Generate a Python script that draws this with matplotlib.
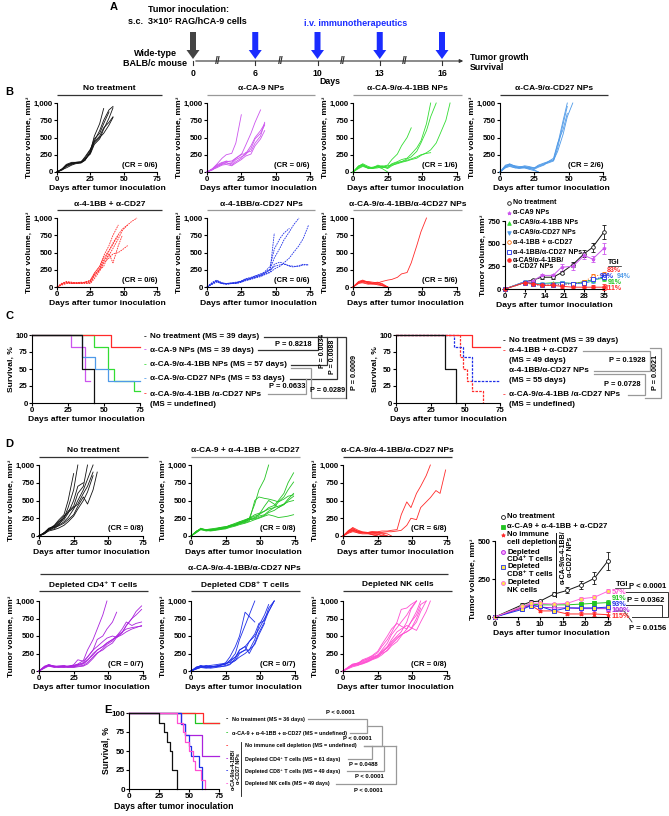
import matplotlib
matplotlib.use("Agg")
import matplotlib.pyplot as plt
from matplotlib.patches import FancyArrow

plt.rcParams["font.family"] = ["Liberation Sans", "DejaVu Sans"]
plt.rcParams["font.weight"] = "bold"
plt.rcParams["axes.labelweight"] = "bold"
plt.rcParams["axes.linewidth"] = 0.8

W, H = 669, 816

# ---------------- data ----------------
TIMELINE_DAYS = [0, 6, 10, 13, 16]

DAYS = [0, 4, 7, 11, 14, 18, 21, 25, 28, 32, 35, 39, 42, 46, 49, 53, 56, 60, 63, 67, 70, 74]
DAY_TICKS = [0, 25, 50, 75]
VOL_TICKS = [0, 250, 500, 750, 1000]
VOL_TICK_LABELS = ["0", "250", "500", "750", "1,000"]

B_NO_TREATMENT = [
    [0, 40, 90, 120, 130, 135, 170, 300, 520, 700, 920],
    [0, 45, 100, 130, 135, 140, 180, 280, 450, 600, 750, 900, 950],
    [0, 30, 80, 110, 130, 140, 200, 320, 480, 560, 700, 870],
    [0, 50, 110, 140, 140, 150, 190, 260, 400, 480, 620, 780, 930],
    [0, 35, 60, 100, 120, 130, 170, 280, 420, 500, 560, 680, 790],
    [0, 40, 95, 125, 140, 145, 220, 330, 440, 520, 640, 720, 800],
]
B_CA9 = [
    [0, 50, 110, 200, 250, 270, 420, 830],
    [0, 45, 100, 140, 150, 160, 200, 250, 380, 560, 720, 900],
    [0, 40, 90, 130, 160, 140, 200, 260, 260, 380, 500, 600, 700],
    [0, 35, 80, 110, 130, 120, 180, 220, 250, 340, 480, 560, 680],
    [0, 30, 70, 120, 140, 100, 150, 200, 280, 300, 420, 520, 720],
    [0, 40, 60, 100, 110, 90, 130, 180, 230, 260, 380, 480, 600],
]
B_CA9_41BB = [
    [0, 80, 120, 80, 60, 70, 50, 0],
    [0, 90, 110, 60, 50, 90, 80, 100, 180, 260, 380, 500, 640],
    [0, 70, 100, 70, 60, 80, 90, 70, 120, 150, 180, 200, 260, 350, 450, 700, 1000],
    [0, 60, 90, 50, 60, 100, 70, 60, 110, 140, 150, 190, 220, 300, 420, 600, 800, 1000],
    [0, 80, 100, 60, 70, 80, 60, 90, 100, 120, 140, 160, 180, 200, 240, 280, 320, 420, 560, 750, 1000],
    [0, 50, 80, 60, 50, 60, 80, 50, 90, 130, 150, 170, 190, 220, 250, 270, 280],
]
B_CA9_CD27 = [
    [0, 100, 110, 80, 60, 70, 60, 30, 0],
    [0, 70, 90, 60, 50, 60, 40, 20, 0],
    [0, 90, 120, 80, 70, 90, 80, 60, 100, 130, 150, 180, 400, 750, 1000],
    [0, 80, 100, 70, 60, 80, 70, 50, 90, 120, 140, 170, 300, 550, 800, 1000],
    [0, 70, 110, 90, 80, 70, 60, 60, 80, 110, 130, 160, 350, 700, 950],
    [0, 60, 80, 60, 70, 60, 50, 40, 70, 100, 150, 200, 420, 620, 850],
]
B_41BB_CD27 = [
    [0, 40, 60, 60, 50, 55, 50, 60, 150, 250, 380, 520, 640, 760, 840, 900, 950, 1000],
    [0, 50, 80, 70, 60, 60, 70, 80, 200, 300, 450, 600, 750, 900],
    [0, 30, 50, 50, 60, 50, 60, 50, 120, 230, 350, 420, 480, 500, 540, 600],
    [0, 60, 70, 60, 50, 60, 70, 90, 180, 250, 300, 480, 350, 600, 750],
    [0, 40, 70, 50, 60, 70, 60, 70, 170, 270, 380, 460, 560, 700, 820, 900],
    [0, 50, 60, 60, 60, 60, 70, 100, 200, 300, 420, 530, 620, 750],
]
B_41BB_CD27_NPS = [
    [0, 60, 90, 50, 50, 50, 60, 80, 110, 130, 150, 170, 200, 250, 780],
    [0, 70, 100, 60, 50, 60, 60, 90, 120, 140, 160, 190, 210, 260, 420, 560, 680, 800, 900, 1000],
    [0, 50, 80, 50, 40, 50, 50, 70, 100, 120, 140, 160, 180, 210, 260, 300, 350, 420, 500, 600, 700, 900],
    [0, 40, 70, 50, 40, 50, 60, 80, 100, 120, 140, 170, 200, 250, 300, 320, 330, 310, 300, 300, 320, 320],
    [0, 50, 90, 60, 50, 50, 50, 70, 90, 110, 130, 150, 180, 220, 330, 360, 340, 300, 290, 310, 330, 320],
    [0, 60, 80, 50, 50, 60, 70, 80, 110, 130, 160, 180, 220, 300, 550, 700, 780, 850],
]
B_TRIPLE = [
    [0, 80, 100, 70, 60, 70, 40, 0],
    [0, 60, 90, 60, 50, 40, 30, 0],
    [0, 70, 80, 80, 70, 60, 50, 0],
    [0, 50, 70, 50, 40, 50, 20, 0],
    [0, 60, 60, 40, 50, 30, 20, 0],
    [0, 70, 90, 60, 50, 60, 80, 100, 110, 140, 190, 210, 350, 600, 800, 1000],
]

SUM_B_DAYS = [0, 7, 10, 13, 17, 20, 24, 28, 31, 35]
SUM_B_NT = [0, 80, 100, 130, 130, 180, 270, 390, 460, 630]
SUM_B_NT_ERR = [0, 10, 10, 15, 15, 20, 30, 40, 50, 80]
SUM_B_CA9 = [0, 80, 90, 150, 150, 240, 250, 370, 330, 450]
SUM_B_CA9_ERR = [0, 10, 10, 20, 20, 40, 40, 40, 30, 60]
SUM_B_CA9_41BB = [0, 75, 60, 60, 70, 70, 60, 80, 100, 120]
SUM_B_CA9_CD27 = [0, 80, 60, 55, 60, 70, 60, 60, 90, 140]
SUM_B_41BB_CD27 = [0, 70, 50, 40, 50, 50, 60, 80, 140, 160]
SUM_B_41BB_CD27_NPS = [0, 70, 50, 40, 40, 50, 60, 70, 110, 130]
SUM_B_TRIPLE = [0, 70, 60, 40, 40, 30, 20, 20, 20, 20]
SUM_B_SMALL_ERR = [0, 10, 10, 10, 10, 15, 15, 20, 25, 30]
SUM_B_LABELS = ["No treatment", "α-CA9 NPs", "α-CA9/α-4-1BB NPs", "α-CA9/α-CD27 NPs",
                "α-4-1BB + α-CD27", "α-4-1BB/α-CD27 NPs", "α-CA9/α-4-1BB/\nα-CD27 NPs"]
SUM_B_TGI = ["83%", "90%", "94%", "91%", "111%"]

# survival (time, % surviving), panel C
KM_C_NT = ([0, 35, 43], [100, 50, 0], 43)
KM_C_CA9 = ([0, 27, 37], [100, 83, 33], 40)
KM_C_CA9_41BB = ([0, 43, 53, 57, 71], [100, 83, 50, 33, 17], 75)
KM_C_CA9_CD27 = ([0, 35, 44, 53], [100, 67, 50, 33], 75)
KM_C_TRIPLE = ([0, 55], [100, 83], 75)
KM_C_41BB_CD27 = ([0, 46, 48, 51, 55, 63], [100, 67, 50, 33, 17, 0], 63)
KM_C_41BB_CD27_NPS = ([0, 42, 48, 55], [100, 83, 67, 33], 75)

D_NO_TREATMENT = [
    [0, 50, 100, 150, 220, 300, 500, 880],
    [0, 40, 90, 140, 200, 250, 400, 650, 1000],
    [0, 50, 110, 130, 170, 230, 320, 500, 700, 750],
    [0, 30, 80, 120, 160, 260, 350, 420, 600, 700, 1000],
    [0, 40, 90, 100, 150, 200, 260, 380, 500, 650, 800, 1000],
    [0, 50, 100, 140, 190, 280, 330, 400, 450, 600, 700, 900],
    [0, 45, 100, 120, 140, 180, 230, 300, 420, 550, 450, 650, 900],
    [0, 35, 70, 90, 110, 150, 200, 280, 380, 500, 620, 850],
]
D_FREE_COMBO = [
    [0, 60, 100, 80, 80, 90, 100, 120, 150, 170, 200, 220, 250, 450, 650, 800, 1000],
    [0, 70, 100, 90, 90, 100, 110, 130, 150, 180, 200, 230, 250, 280, 300, 350, 400, 430, 500, 600, 750, 890],
    [0, 50, 90, 70, 80, 90, 100, 110, 140, 160, 180, 200, 230, 250, 280, 300, 350, 400, 480, 550, 650, 760],
    [0, 60, 110, 80, 90, 100, 120, 130, 140, 150, 180, 210, 240, 260, 300, 420, 500, 450, 400, 450, 520, 600],
    [0, 70, 100, 90, 80, 90, 100, 110, 130, 150, 170, 190, 210, 500, 550, 530, 520, 500, 480, 520, 560, 580],
    [0, 60, 90, 80, 70, 80, 90, 100, 120, 140, 160, 180, 200, 230, 250, 280, 300, 280, 260, 270, 280, 300],
    [0, 50, 100, 90, 100, 110, 120, 130, 140, 160, 180, 220, 250, 300, 320, 350, 380, 400, 420, 450, 480, 500],
    [0, 65, 95, 85, 85, 95, 100, 115, 135, 160, 190, 200, 230, 240, 260, 290, 330, 360, 400, 440, 500, 560],
]
D_TRIPLE = [
    [0, 80, 110, 60, 50, 40, 20, 0],
    [0, 60, 90, 70, 50, 50, 40, 30, 0],
    [0, 70, 120, 80, 60, 50, 50, 40, 30, 0],
    [0, 50, 70, 40, 30, 30, 20, 0],
    [0, 40, 60, 50, 40, 40, 30, 20, 10, 0],
    [0, 60, 80, 60, 50, 50, 60, 50, 40, 30, 0],
    [0, 70, 100, 60, 50, 50, 60, 60, 70, 70, 80, 90, 300, 480, 400, 600, 700, 850, 1000],
    [0, 60, 80, 60, 50, 40, 50, 50, 50, 60, 60, 70, 80, 150, 250, 230, 400, 480, 540, 640, 600, 930],
]
D_CD4 = [
    [0, 60, 90, 70, 60, 60, 70, 80, 100, 150, 300, 450, 600, 800, 1000],
    [0, 50, 80, 60, 60, 70, 60, 90, 160, 140, 200, 300, 450, 500, 600, 700, 840],
    [0, 70, 90, 60, 50, 60, 60, 60, 80, 100, 150, 250, 300, 350, 400, 450, 480, 550, 650, 750, 850, 930],
    [0, 60, 80, 70, 70, 70, 70, 80, 90, 110, 160, 230, 300, 350, 400, 450, 500, 560, 600, 620, 630, 640],
    [0, 40, 70, 50, 60, 50, 60, 60, 70, 80, 120, 200, 260, 300, 350, 400, 480, 550, 650, 750, 800, 880],
    [0, 50, 90, 70, 60, 60, 50, 50, 60, 70, 100, 180, 250, 320, 380, 430, 500, 600, 700, 650, 680, 700],
    [0, 60, 70, 60, 70, 80, 60, 70, 90, 120, 200, 300, 350, 420, 470, 500, 480, 520, 560, 600, 620, 650],
]
D_CD8 = [
    [0, 40, 60, 80, 60, 70, 80, 100, 150, 250, 450, 650, 800, 1000],
    [0, 50, 80, 60, 70, 60, 80, 120, 200, 350, 500, 840, 780, 700],
    [0, 60, 70, 50, 60, 70, 90, 100, 130, 200, 260, 300, 420, 500, 600, 750, 850, 1000],
    [0, 30, 50, 40, 50, 60, 80, 100, 150, 200, 300, 350, 420, 530, 680, 720, 900, 1000],
    [0, 40, 60, 70, 80, 90, 100, 110, 120, 150, 200, 250, 300, 450, 650, 800, 950],
    [0, 50, 70, 60, 60, 70, 60, 70, 90, 180, 300, 350, 250, 400, 550, 700, 850, 1000],
    [0, 30, 50, 50, 40, 50, 60, 80, 100, 150, 250, 300, 300, 380, 520, 680],
]
D_NK = [
    [0, 50, 90, 120, 140, 180, 210, 260, 350, 450, 550, 700, 880, 900, 950, 1000],
    [0, 60, 100, 110, 160, 190, 220, 280, 380, 500, 600, 680, 640, 600, 700, 800, 950, 1000],
    [0, 40, 80, 100, 120, 150, 180, 220, 300, 400, 520, 620, 700, 800, 900, 1000],
    [0, 50, 80, 90, 110, 140, 170, 200, 260, 340, 420, 500, 560, 700, 880, 1000],
    [0, 45, 70, 90, 100, 130, 160, 190, 230, 300, 380, 460, 520, 560, 600, 700, 850, 1000],
    [0, 55, 90, 110, 130, 160, 200, 230, 270, 330, 400, 480, 520, 560, 600, 750, 900],
    [0, 35, 60, 80, 110, 140, 170, 210, 250, 290, 360, 420, 500, 600, 700, 850, 1000],
    [0, 50, 95, 100, 150, 170, 190, 220, 280, 350, 450, 560, 600, 650, 620, 580, 700, 850, 1000],
]

SUM_D_DAYS = [0, 6, 8, 10, 13, 16, 19, 22, 25]
SUM_D_NT = [0, 80, 100, 105, 150, 175, 210, 255, 370]
SUM_D_NT_ERR = [0, 10, 10, 10, 15, 20, 25, 40, 60]
SUM_D_FREE = [0, 70, 85, 80, 80, 80, 85, 90, 95]
SUM_D_NO_DEPL = [0, 60, 75, 40, 40, 20, 20, 20, 15]
SUM_D_CD4 = [0, 60, 80, 65, 60, 60, 55, 55, 55]
SUM_D_CD8 = [0, 50, 75, 70, 40, 60, 60, 60, 65]
SUM_D_NK = [0, 70, 90, 90, 85, 90, 120, 130, 170]
SUM_D_SMALL_ERR = [0, 8, 8, 8, 8, 10, 10, 12, 15]
SUM_D_TGI = ["57%", "91%", "93%", "100%", "115%"]

KM_E_NT = ([0, 25, 29, 32, 34, 36, 40], [100, 87.5, 75, 62.5, 50, 25, 0], 40)
KM_E_FREE = ([0, 55], [100, 87.5], 75)
KM_E_NO_DEPL = ([0, 62], [100, 87.5], 75)
KM_E_CD4 = ([0, 43, 47, 61], [100, 86, 71, 43], 75)
KM_E_CD8 = ([0, 43, 47, 50, 52, 58, 61], [100, 86, 71, 57, 43, 29, 0], 61)
KM_E_NK = ([0, 40, 45, 47, 50, 53, 55, 60, 63], [100, 87.5, 75, 62.5, 50, 37.5, 25, 12.5, 0], 63)

# ---------------- colours ----------------
BLACK = "#111111"
VIOLET = "#cc55ee"
GREEN = "#33dd33"
LBLUE = "#4f9ae8"
RED = "#ff2a2a"
BLUE = "#1f2fe8"
ORANGE = "#ff6a00"
DGREEN = "#22c422"
PURPLE = "#aa22dd"
PINK = "#ff4fd2"
GRAYL = "#999999"
GRAYD = "#333333"
DASH = (0, (2, 1))

fig = plt.figure(figsize=(W / 100, H / 100), dpi=100)
ov = fig.add_axes([0, 0, 1, 1], zorder=10)
ov.set_xlim(0, W)
ov.set_ylim(H, 0)
ov.axis("off")


def add_ax(x0, x1, ytop, ybot):
    ax = fig.add_axes([x0 / W, 1 - ybot / H, (x1 - x0) / W, (ybot - ytop) / H])
    ax.patch.set_visible(False)
    ax.spines["top"].set_visible(False)
    ax.spines["right"].set_visible(False)
    ax.tick_params(labelsize=5.6, length=2, width=0.8, pad=1)
    return ax


def txt(x, y, s, size=5.2, color="black", ha="left", va="center", **kw):
    ov.text(x, y, s, fontsize=size, color=color, ha=ha, va=va, **kw)


def poly(points, color=GRAYL, lw=0.9):
    ov.plot([p[0] for p in points], [p[1] for p in points], color=color, lw=lw,
            solid_joinstyle="miter")


def title_bar(x0, x1, y, text, lc):
    txt((x0 + x1) / 2, y, text, size=6.0, ha="center")
    ov.plot([x0, x1], [y + 6, y + 6], color=lc, lw=0.9, solid_capstyle="butt")


def spaghetti(ax, curves, color, ls, cr):
    for c in curves:
        ax.plot(DAYS[:len(c)], c, color=color, lw=0.6, ls=ls, clip_on=False)
    ax.set_xlim(0, 75)
    ax.set_ylim(0, 1000)
    ax.set_xticks(DAY_TICKS)
    ax.set_yticks(VOL_TICKS)
    ax.set_yticklabels(VOL_TICK_LABELS)
    ax.set_xlabel("Days after tumor inoculation", fontsize=6.1, labelpad=1.5)
    ax.set_ylabel("Tumor volume, mm³", fontsize=6.1, labelpad=0.5)
    ax.text(1.0, 0.1, cr, transform=ax.transAxes, ha="right", va="center", fontsize=5.5)


def km(ax, data, color, ls="-"):
    times, surv, end = data
    ax.step(list(times) + [end], list(surv) + [surv[-1]], where="post",
            color=color, lw=0.9, ls=ls, clip_on=False)


def km_axes(ax, size=6.1):
    ax.set_xlim(0, 75)
    ax.set_ylim(0, 100)
    ax.set_xticks(DAY_TICKS)
    ax.set_yticks([0, 25, 50, 75, 100])
    ax.set_xlabel("Days after tumor inoculation", fontsize=size, labelpad=1.5)
    ax.set_ylabel("Survival, %", fontsize=size, labelpad=0.5)


# ---------------- panel A ----------------
txt(110, 7, "A", size=8)
xs = [193 + 62.25 * i for i in range(len(TIMELINE_DAYS))]
ov.annotate("", xy=(466, 61), xytext=(193, 61),
            arrowprops=dict(arrowstyle="-|>", color=GRAYD, lw=0.8, mutation_scale=5))
for i, (x, d) in enumerate(zip(xs, TIMELINE_DAYS)):
    ov.plot([x, x], [61, 65], color=GRAYD, lw=0.8)
    txt(x, 73, str(d), size=6.3, ha="center")
    col = "#444444" if i == 0 else "#1a2cff"
    ov.add_patch(FancyArrow(x, 32, 0, 27, width=6, head_width=13, head_length=9,
                            length_includes_head=True, color=col, lw=0))
for a, b in zip(xs[:-1], xs[1:]):
    txt((a + b) / 2 - 6, 61, "//", size=7.5, color=GRAYD, ha="center")
txt(330, 82, "Days", size=6.3, ha="center")
txt(189, 10, "Tumor inoculation:", size=6.5, ha="center")
txt(187, 21, "s.c.  3×10⁵ RAG/hCA-9 cells", size=6.5, ha="center")
txt(356, 23, "i.v. immunotherapeutics", size=6.5, color="#1a2cff", ha="center")
txt(155, 53, "Wide-type", size=6.5, ha="center")
txt(155, 64, "BALB/c mouse", size=6.5, ha="center")
txt(470, 57, "Tumor growth", size=6.3)
txt(470, 68, "Survival", size=6.3)

# ---------------- panel B ----------------
txt(5, 92, "B", size=8)
B_COLS = [(57, 157), (207, 310), (353, 457), (500, 603)]
row1 = [("No treatment", B_NO_TREATMENT, BLACK, "-", "(CR = 0/6)", GRAYD),
        ("α-CA-9 NPs", B_CA9, VIOLET, "-", "(CR = 0/6)", GRAYL),
        ("α-CA-9/α-4-1BB NPs", B_CA9_41BB, GREEN, "-", "(CR = 1/6)", GRAYL),
        ("α-CA-9/α-CD27 NPs", B_CA9_CD27, LBLUE, "-", "(CR = 2/6)", GRAYD)]
row2 = [("α-4-1BB + α-CD27", B_41BB_CD27, RED, DASH, "(CR = 0/6)", GRAYD),
        ("α-4-1BB/α-CD27 NPs", B_41BB_CD27_NPS, BLUE, DASH, "(CR = 0/6)", GRAYL),
        ("α-CA-9/α-4-1BB/α-4CD27 NPs", B_TRIPLE, RED, "-", "(CR = 5/6)", GRAYL)]
for (x0, x1), (title, curves, col, ls, cr, lc) in zip(B_COLS, row1):
    ax = add_ax(x0, x1, 103, 172)
    spaghetti(ax, curves, col, ls, cr)
    title_bar(x0, x1 + 5, 89, title, lc)
for (x0, x1), (title, curves, col, ls, cr, lc) in zip(B_COLS, row2):
    ax = add_ax(x0, x1, 218, 287)
    spaghetti(ax, curves, col, ls, cr)
    title_bar(x0, x1 + 5, 204, title, lc)

ax = add_ax(505, 604, 221, 289)
sum_b = [(SUM_B_NT, SUM_B_NT_ERR, BLACK, "o", "white", "-"),
         (SUM_B_CA9, SUM_B_CA9_ERR, VIOLET, "*", VIOLET, "-"),
         (SUM_B_CA9_41BB, SUM_B_SMALL_ERR, GREEN, "^", GREEN, "-"),
         (SUM_B_CA9_CD27, SUM_B_SMALL_ERR, LBLUE, "v", LBLUE, "-"),
         (SUM_B_41BB_CD27, SUM_B_SMALL_ERR, ORANGE, "o", "white", ":"),
         (SUM_B_41BB_CD27_NPS, SUM_B_SMALL_ERR, BLUE, "s", "white", ":"),
         (SUM_B_TRIPLE, SUM_B_SMALL_ERR, RED, "o", RED, "-")]
for vals, errs, col, mk, mfc, ls in sum_b:
    ax.errorbar(SUM_B_DAYS, vals, yerr=errs, color=col, marker=mk, ms=2.6, mfc=mfc,
                mew=0.6, lw=0.7, ls=ls, capsize=1.2, elinewidth=0.6, clip_on=False)
ax.set_xlim(0, 35)
ax.set_ylim(0, 750)
ax.set_xticks([0, 7, 14, 21, 28, 35])
ax.set_yticks([0, 250, 500, 750])
ax.set_xlabel("Days after tumor inoculation", fontsize=6.1, labelpad=1.5)
ax.set_ylabel("Tumor volume, mm³", fontsize=6.1, labelpad=0.5)
leg_y = [203, 213, 223, 233, 242, 252, 260]
for (vals, errs, col, mk, mfc, ls), lab, y in zip(sum_b, SUM_B_LABELS, leg_y):
    ov.plot([509], [y], marker=mk, ms=2.6, color=col, mfc=mfc, mew=0.6)
    lines = lab.split("\n")
    for k, line in enumerate(lines):
        txt(513, y + 7 * k, line, size=5.0)
txt(614, 262, "TGI", size=5.0, ha="center")
ov.plot([608, 621], [265.5, 265.5], color=BLACK, lw=0.5)
tgi_b_pos = [(614, 270, RED), (607, 277, BLUE), (624, 277, LBLUE), (615, 283, DGREEN), (613, 289, RED)]
for lab, (x, y, col) in zip(SUM_B_TGI, tgi_b_pos):
    txt(x, y, lab, size=5.0, color=col, ha="center")

# ---------------- panel C ----------------
txt(5, 316, "C", size=8)
ax = add_ax(32, 140, 335, 403)
km(ax, KM_C_CA9, VIOLET)
km(ax, KM_C_CA9_41BB, GREEN)
km(ax, KM_C_CA9_CD27, LBLUE)
km(ax, KM_C_TRIPLE, RED)
km(ax, KM_C_NT, BLACK)
km_axes(ax)
c_left = [("No treatment (MS = 39 days)", BLACK, 337),
          ("α-CA-9 NPs (MS = 39 days)", VIOLET, 350),
          ("α-CA-9/α-4-1BB NPs (MS = 57 days)", GREEN, 365),
          ("α-CA-9/α-CD27 NPs (MS = 53 days)", LBLUE, 379),
          ("α-CA-9/α-4-1BB /α-CD27 NPs", RED, 394)]
for lab, col, y in c_left:
    txt(144, y, "-", size=6.0, color=col)
    txt(150, y, lab, size=5.9)
txt(150, 405, "(MS = undefined)", size=5.9)
poly([(264, 337), (318, 337), (318, 350), (258, 350)], GRAYD)
txt(293, 344, "P = 0.8218", size=5.4, ha="center")
poly([(318, 337), (327, 337), (327, 365), (291, 365)], GRAYD)
txt(322.5, 351, "P = 0.0034", size=5.0, ha="center", rotation=90)
poly([(327, 337), (337, 337), (337, 379), (290, 379)], GRAYD)
txt(332.5, 357, "P = 0.0088", size=5.0, ha="center", rotation=90)
poly([(268, 394), (306, 394), (306, 379)], GRAYL)
txt(287, 386.5, "P = 0.0633", size=5.4, ha="center")
poly([(291, 368), (311, 368), (311, 398), (346, 398)], GRAYL)
txt(328, 391, "P = 0.0289", size=5.2, ha="center")
poly([(337, 337), (346, 337), (346, 398)], GRAYD)
txt(354, 372, "P = 0.0009", size=5.2, ha="center", rotation=90)

ax = add_ax(396, 500, 335, 403)
km(ax, KM_C_41BB_CD27, RED, DASH)
km(ax, KM_C_41BB_CD27_NPS, BLUE, DASH)
km(ax, KM_C_TRIPLE, RED)
km(ax, KM_C_NT, BLACK)
km_axes(ax)
c_right = [("No treatment (MS = 39 days)", BLACK, 341),
           ("α-4-1BB + α-CD27", RED, 351),
           ("α-4-1BB/α-CD27 NPs", None, 371),
           ("α-CA-9/α-4-1BB /α-CD27 NPs", RED, 395)]
for lab, col, y in c_right:
    if col is not None:
        txt(503, y, "-", size=6.0, color=col)
    txt(509, y, lab, size=5.9)
txt(509, 360, "(MS = 49 days)", size=5.9)
txt(509, 381, "(MS = 55 days)", size=5.9)
txt(509, 405, "(MS = undefined)", size=5.9)
poly([(583, 351), (650, 351), (650, 371), (594, 371)], GRAYL)
txt(627, 361, "P = 0.1928", size=5.4, ha="center")
poly([(594, 374), (645, 374), (645, 395), (628, 395)], GRAYL)
txt(622, 384, "P = 0.0728", size=5.4, ha="center")
poly([(650, 348), (661, 348), (661, 398), (645, 398)], GRAYL)
txt(655.5, 372, "P = 0.0021", size=5.2, ha="center", rotation=90)

# ---------------- panel D ----------------
txt(5, 444, "D", size=8)
D_COLS = [(39, 143), (191, 295), (343, 447)]
d_row1 = [("No treatment", D_NO_TREATMENT, BLACK, "(CR = 0/8)", GRAYD),
          ("α-CA-9 + α-4-1BB + α-CD27", D_FREE_COMBO, DGREEN, "(CR = 0/8)", GRAYL),
          ("α-CA-9/α-4-1BB/α-CD27 NPs", D_TRIPLE, RED, "(CR = 6/8)", GRAYD)]
d_row2 = [("Depleted CD4⁺ T cells", D_CD4, PURPLE, "(CR = 0/7)", GRAYD),
          ("Depleted CD8⁺ T cells", D_CD8, BLUE, "(CR = 0/7)", GRAYD),
          ("Depleted NK cells", D_NK, PINK, "(CR = 0/8)", GRAYD)]
for (x0, x1), (title, curves, col, cr, lc) in zip(D_COLS, d_row1):
    ax = add_ax(x0, x1, 465, 536)
    spaghetti(ax, curves, col, "-", cr)
    title_bar(x0, x1 + 5, 451, title, lc)
title_bar(40, 448, 568, "α-CA-9/α-4-1BB/α-CD27 NPs", GRAYD)
for (x0, x1), (title, curves, col, cr, lc) in zip(D_COLS, d_row2):
    ax = add_ax(x0, x1, 601, 671)
    spaghetti(ax, curves, col, "-", cr)
    title_bar(x0, x1 + 5, 585, title, lc)

ax = add_ax(495, 608, 541, 617)
sum_d = [(SUM_D_NT, SUM_D_NT_ERR, BLACK, "o", "white"),
         (SUM_D_FREE, SUM_D_SMALL_ERR, DGREEN, "s", DGREEN),
         (SUM_D_NO_DEPL, SUM_D_SMALL_ERR, RED, "*", RED),
         (SUM_D_CD4, SUM_D_SMALL_ERR, PURPLE, "o", "#ff9cff"),
         (SUM_D_CD8, SUM_D_SMALL_ERR, BLUE, "s", "#ffe84a"),
         (SUM_D_NK, SUM_D_SMALL_ERR, "#ff66dd", "o", "#ffe84a")]
for vals, errs, col, mk, mfc in sum_d:
    ax.errorbar(SUM_D_DAYS, vals, yerr=errs, color=col, marker=mk, ms=2.8, mfc=mfc,
                mew=0.6, lw=0.7, capsize=1.2, elinewidth=0.6, clip_on=False)
ax.set_xlim(0, 25)
ax.set_ylim(0, 500)
ax.set_xticks([0, 5, 10, 15, 20, 25])
ax.set_yticks([0, 250, 500])
ax.set_xlabel("Days after tumor inoculation", fontsize=6.1, labelpad=1.5)
ax.set_ylabel("Tumor volume, mm³", fontsize=6.1, labelpad=0.5)
d_leg = [("No treatment", 517), ("α-C-A9 + α-4-1BB + α-CD27", 527),
         ("No immune\ncell depletion", 535), ("Depleted\nCD4⁺ T cells", 552),
         ("Depleted\nCD8⁺ T cells", 567), ("Depleted\nNK cells", 583)]
for (vals, errs, col, mk, mfc), (lab, y) in zip(sum_d, d_leg):
    ov.plot([503], [y], marker=mk, ms=2.8, color=col, mfc=mfc, mew=0.6)
    for k, line in enumerate(lab.split("\n")):
        txt(507, y + 7.5 * k, line, size=5.6)
ov.plot([556, 556], [533, 597], color=BLACK, lw=0.7)
txt(567, 557, "α-CA-9/α-4-1BB/\nα-CD27 NPs", size=5.0, ha="center", rotation=90,
    linespacing=1.0)
txt(622, 584, "TGI", size=5.4, ha="center")
ov.plot([615, 630], [588, 588], color=BLACK, lw=0.5)
tgi_d_col = [PINK, DGREEN, BLUE, PURPLE, RED]
for k, (lab, col) in enumerate(zip(SUM_D_TGI, tgi_d_col)):
    txt(612, 592 + 6.2 * k, lab, size=5.3, color=col)
poly([(626, 592), (668, 592), (668, 617), (632, 617)], GRAYD, 0.7)
poly([(626, 605), (662, 605), (662, 617)], GRAYD, 0.7)
txt(648, 587, "P < 0.0001", size=5.6, ha="center")
txt(646, 600, "P = 0.0362", size=5.6, ha="center")
poly([(616, 611), (624, 611), (632, 622)], GRAYD, 0.6)
txt(648, 628, "P = 0.0156", size=5.6, ha="center")

# ---------------- panel E ----------------
txt(104, 710, "E", size=8)
ax = add_ax(129, 219, 713, 789)
km(ax, KM_E_FREE, DGREEN)
km(ax, KM_E_NO_DEPL, RED)
km(ax, KM_E_CD4, PURPLE)
km(ax, KM_E_CD8, BLUE)
km(ax, KM_E_NK, PINK)
km(ax, KM_E_NT, BLACK)
km_axes(ax, 6.3)
ax.tick_params(labelsize=5.9)
e_leg = [("No treatment (MS = 36 days)", BLACK, 719, 232),
         ("α-CA-9 + α-4-1BB + α-CD27 (MS = undefined)", DGREEN, 733, 232),
         ("No immune cell depletion (MS = undefined)", RED, 746, 245),
         ("Depleted CD4⁺ T cells (MS = 61 days)", PURPLE, 759, 245),
         ("Depleted CD8⁺ T cells (MS = 49 days)", BLUE, 771, 245),
         ("Depleted NK cells (MS = 49 days)", PINK, 784, 245)]
for lab, col, y, x in e_leg:
    txt(226, y, "-", size=5.0, color=col)
    txt(x, y, lab, size=3.9)
ov.plot([241, 241], [742, 796], color=BLACK, lw=0.6)
txt(235.5, 769, "α-CA-9/α-4-1BB/\nα-CD27 NPs", size=3.9, ha="center", rotation=90,
    linespacing=1.0)
poly([(308, 719), (367, 719), (367, 733), (350, 733)], GRAYL)
txt(340, 713, "P < 0.0001", size=4.2, ha="center")
poly([(367, 726), (382, 726), (382, 746), (364, 746)], GRAYL)
txt(357, 739, "P < 0.0001", size=4.2, ha="center")
poly([(364, 746), (396, 746)], GRAYL)
poly([(372, 746), (372, 759), (348, 759)], GRAYL)
poly([(384, 746), (384, 771), (347, 771)], GRAYL)
poly([(396, 746), (396, 784), (336, 784)], GRAYL)
txt(349, 764, "P = 0.0488", size=4.2)
txt(355, 776, "P < 0.0001", size=4.2)
txt(354, 790, "P < 0.0001", size=4.2)

fig.savefig("out.png", dpi=100)
